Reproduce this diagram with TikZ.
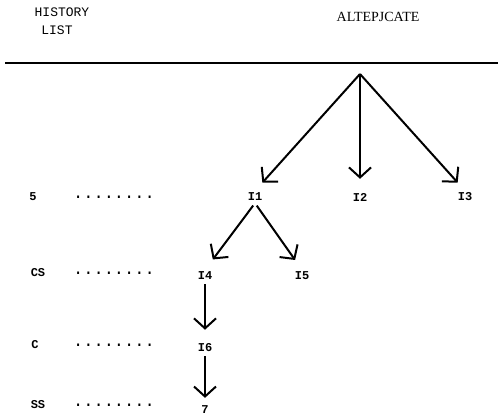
\documentclass[tikz,border=0pt]{standalone}
\usepackage{fontspec}
\setmainfont{Liberation Serif}
\setmonofont{Liberation Mono}
\usetikzlibrary{arrows.meta}
\tikzset{
  lbl/.style={font=\fontsize{12}{12}\selectfont\ttfamily\bfseries,inner sep=2pt},
  lead/.style={font=\fontsize{17}{17}\selectfont\ttfamily,inner sep=0pt},
  arr/.style={line width=2pt,-{Straight Barb[length=10pt,width=22pt,line width=2pt]}},
}
\begin{document}
\begin{tikzpicture}[x=1pt,y=-1pt]
\useasboundingbox (0,0) rectangle (498,416);
% heading
\node [font=\fontsize{13}{13}\selectfont\ttfamily,name=hist] at (62,12){HISTORY};
\node [font=\fontsize{13}{13}\selectfont\ttfamily,name=list] at (57,30){LIST};
\node [font=\fontsize{14}{14}\selectfont,name=alt] at (378,17){ALTEPJCATE};
\draw[line width=2.4pt] (5,63)--(498,63);
% tree
\coordinate (root) at (360,74);
\node [lbl,name=i1] at (255,197){I1};
\node [lbl,name=i2] at (360,197){I2};
\node [lbl,name=i3] at (465,197){I3};
\node [lbl,name=i4] at (205,276){I4};
\node [lbl,name=i5] at (302,276){I5};
\node [lbl,name=i6] at (205,348){I6};
\node [lbl,name=i7] at (205,410){7};
\draw[arr,shorten >=11pt] (root)--(i1.north);
\draw[arr,shorten >=12pt] (root)--(i2.north);
\draw[arr,shorten >=11pt] (root)--(i3.north);
\draw[arr,shorten <=3pt,shorten >=13pt] (i1.south)--(i4.north);
\draw[arr,shorten <=3pt,shorten >=12pt] (i1.south)--(i5.north);
\draw[arr,shorten <=2pt,shorten >=12pt] (i4)--(i6.north);
\draw[arr,shorten <=2pt,shorten >=6pt] (i6)--(i7.north);
% history list
\node [lbl,name=h1] at (33,197){5};
\node [lbl,name=h2] at (38,273){CS};
\node [lbl,name=h3] at (35,345){C};
\node [lbl,name=h4] at (38,405){SS};
\node [lead,name=d1] at (114,197){........};
\node [lead,name=d2] at (114,273){........};
\node [lead,name=d3] at (114,345){........};
\node [lead,name=d4] at (114,405){........};
\end{tikzpicture}
\end{document}
